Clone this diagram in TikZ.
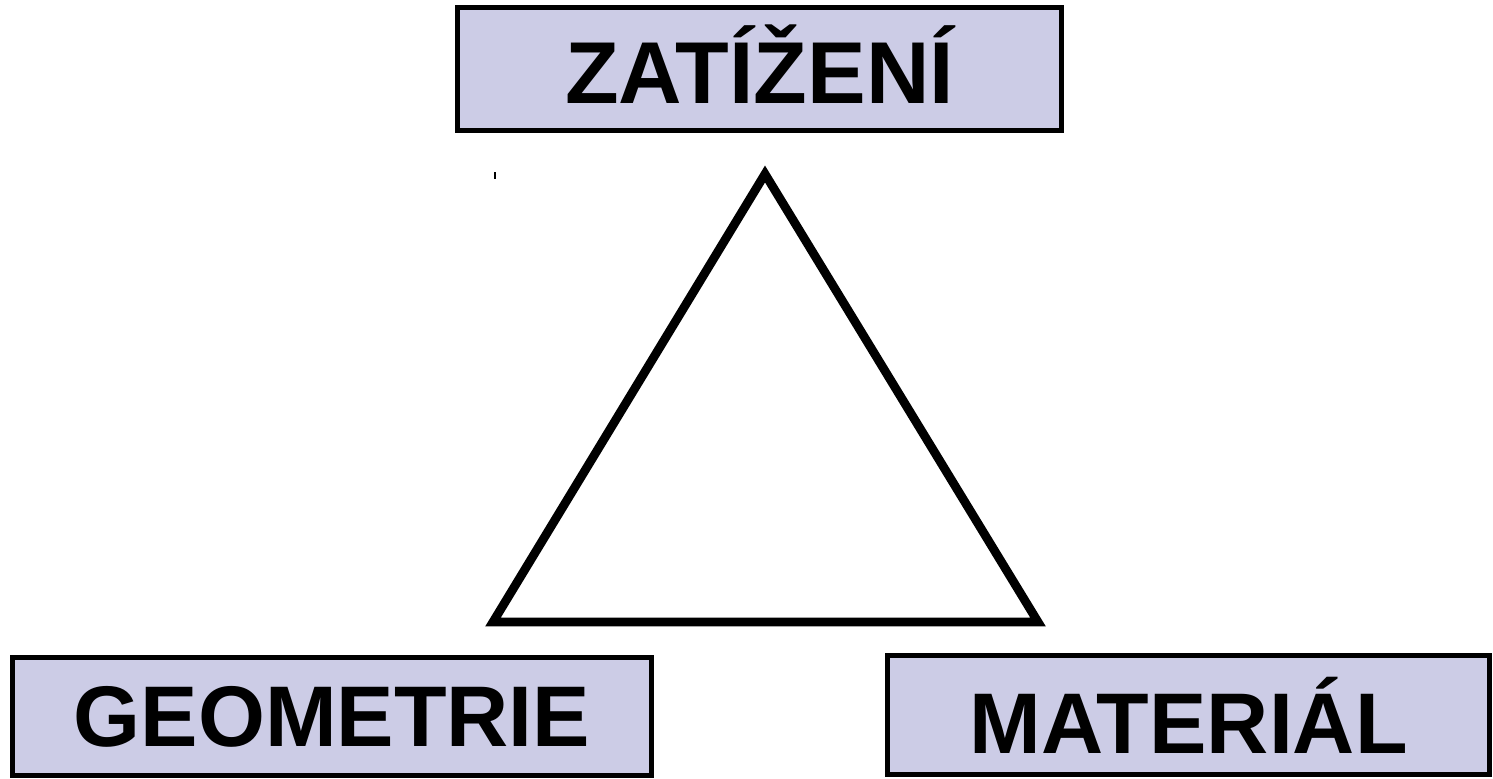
\documentclass[tikz,border=0pt]{standalone}
\usepackage{fontspec}
\setmainfont{Liberation Sans}
\usepackage{xcolor}
\usetikzlibrary{shapes}
\definecolor{boxfill}{RGB}{204,204,230}
\tikzset{
    pojem/.style={draw=black, line width=2.8pt, fill=boxfill, inner sep=0pt,
        font=\fontsize{49}{56}\selectfont\bfseries}
}

\begin{document}
\begin{tikzpicture}[x=0.02cm, y=-0.02cm]
            \useasboundingbox (0,0) rectangle (1493,778);
            \node[pojem, minimum width=12.08cm, minimum height=2.46cm, text depth=5pt,
                font=\fontsize{50}{56}\selectfont\bfseries] (zatizeni) at (759.5,69) {ZATÍŽENÍ};
            \node[pojem, minimum width=12.78cm, minimum height=2.36cm] (geometrie) at (332,716.5) {GEOMETRIE};
            \node[pojem, minimum width=12.04cm, minimum height=2.38cm] (material) at (1188.5,715) {MATERIÁL};
            % triangle
            \coordinate (vrchol) at (765,174);
            \coordinate (levy) at (493,622);
            \coordinate (pravy) at (1038,622);
            \draw[line width=5pt, miter limit=20] (vrchol) -- (levy) -- (pravy) -- cycle;
            \coordinate (carka) at (495,172);
            \draw[line width=0.6pt] (carka) -- ++(0,7);
\end{tikzpicture}
\end{document}
